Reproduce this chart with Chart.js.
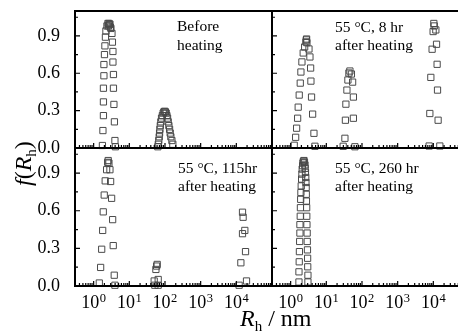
<!DOCTYPE html>
<html>
<head>
<meta charset="utf-8">
<script src="https://cdn.jsdelivr.net/npm/chart.js@4"></script>
<style>
  html, body { margin: 0; padding: 0; background: #fff; }
  #wrap { position: relative; width: 458px; height: 335px; overflow: hidden; }
  #wrap canvas { position: absolute; left: 0; top: 0; }
  .title { position: absolute; font-family: 'Liberation Serif', serif; font-size: 24px; line-height: 24px; white-space: nowrap; color: #000; }
  .title sub { font-size: 15px; vertical-align: -5px; line-height: 0; }
  #ytitle { left: 11px; top: 186px; transform-origin: 0 0; transform: rotate(-90deg); }
  #xtitle { left: 240px; top: 306px; }
</style>
</head>
<body>
<div id="wrap">
  <canvas id="c1" width="480" height="335"></canvas>
  <canvas id="c2" width="480" height="335"></canvas>
  <canvas id="c3" width="480" height="335"></canvas>
  <canvas id="c4" width="480" height="335"></canvas>
  <div class="title" id="ytitle"><i>f</i>(<i>R</i><sub>h</sub>)</div>
  <div class="title" id="xtitle"><i>R</i><sub>h</sub> / nm</div>
</div>
<script>
// axis ticks
const xTickValues = [1, 10, 100, 1000, 10000]
const xTickBase = '10'
const xTickPowers = ['0', '1', '2', '3', '4']
const yTickValues = [0, 0.3, 0.6, 0.9]
const yTickLabels = ['0.0', '0.3', '0.6', '0.9']
const yMinorTicks = [0.15, 0.45, 0.75, 1.05]

// before heating
const beforeRh = [1.76, 1.82, 1.88, 1.88, 1.88, 1.94, 1.94, 2.01, 2.07, 2.14, 2.21, 2.36, 2.52, 2.6, 2.68, 2.77, 2.86, 2.95, 3.05, 3.26, 3.36, 3.47, 3.47, 3.59, 3.59, 3.70, 3.82, 3.95, 4.08,
  63, 65, 67, 69, 70.5, 72, 74, 76.5, 80, 84.5, 89, 93, 98, 102.5, 108, 113, 118, 123, 128.5, 134.5, 140, 146, 156, 166]
const beforeF = [0.02, 0.14, 0.26, 0.37, 0.48, 0.58, 0.67, 0.75, 0.82, 0.89, 0.94, 0.98, 1.0, 0.98, 1.0, 0.99, 0.995, 0.97, 0.96, 0.92, 0.85, 0.775, 0.69, 0.59, 0.48, 0.35, 0.21, 0.06, 0.01,
  0.01, 0.03, 0.06, 0.09, 0.12, 0.15, 0.18, 0.21, 0.24, 0.26, 0.28, 0.29, 0.295, 0.29, 0.28, 0.26, 0.24, 0.21, 0.18, 0.15, 0.12, 0.09, 0.06, 0.03]

// 55 C, 8 hr
const hr8Rh = [1.26, 1.38, 1.47, 1.57, 1.63, 1.74, 1.86, 1.94, 2.07, 2.25, 2.47, 2.68, 2.75, 2.8, 2.86, 3.26, 3.47, 3.63, 3.70, 3.85, 4.13, 4.50, 4.79,
  29.7, 33.2, 34.3, 35.4, 37.8, 40.3, 43.0, 45.8, 50.5, 54.6, 57.4, 57.4, 63.3,
  7630, 7980, 8510, 9250, 9870, 10330, 10600, 11750, 12300, 12770, 13110, 13620, 15200]
const hr8F = [0.022, 0.086, 0.159, 0.239, 0.328, 0.425, 0.521, 0.610, 0.691, 0.763, 0.811, 0.852, 0.868, 0.875, 0.846, 0.795, 0.731, 0.642, 0.537, 0.409, 0.272, 0.118, 0.014,
  0.014, 0.078, 0.223, 0.352, 0.465, 0.546, 0.602, 0.618, 0.594, 0.529, 0.409, 0.239, 0.01,
  0.016, 0.277, 0.567, 0.793, 0.935, 1.0, 0.98, 0.948, 0.833, 0.672, 0.465, 0.223, 0.016]

// 55 C, 115 hr
const hr115Rh = [1.44, 1.57, 1.68, 1.79, 1.86, 1.98, 2.11, 2.31, 2.47, 2.56, 2.68, 2.86, 2.99, 3.19, 3.41, 3.54, 3.78, 3.95,
  49.8, 52, 55.6, 58.2, 60.5, 64.5, 64.5,
  11970, 13400, 14900, 14900, 15500, 17300, 18100, 19300]
const hr115F = [0.024, 0.148, 0.293, 0.443, 0.591, 0.725, 0.838, 0.927, 0.986, 1.0, 0.98, 0.927, 0.833, 0.699, 0.529, 0.322, 0.086, 0.006,
  0.04, 0.006, 0.132, 0.159, 0.172, 0.052, 0.006,
  0.006, 0.185, 0.417, 0.588, 0.548, 0.443, 0.274, 0.040]

// 55 C, 260 hr
const hr260Rh = [1.71, 1.71, 1.74, 1.76, 1.79, 1.82, 1.82, 1.86, 1.88, 1.91, 1.94, 1.98, 2.03, 2.07, 2.11, 2.17, 2.21, 2.28,
  2.36,
  3.05, 3.05, 3.01, 2.99, 2.96, 2.92, 2.90, 2.86, 2.83, 2.81, 2.77, 2.74, 2.72, 2.68, 2.65, 2.60, 2.55, 2.52, 2.44]
const hr260F = [0.032, 0.113, 0.193, 0.274, 0.355, 0.422, 0.489, 0.556, 0.624, 0.691, 0.745, 0.798, 0.852, 0.892, 0.932, 0.959, 0.981, 0.994,
  1.0,
  0.032, 0.086, 0.153, 0.221, 0.288, 0.355, 0.422, 0.489, 0.556, 0.624, 0.677, 0.731, 0.785, 0.825, 0.865, 0.906, 0.938, 0.965, 0.986]

const panelNotes = [
  ['Before', 'heating'],
  ['55 °C, 8 hr', 'after heating'],
  ['55 °C, 115hr', 'after heating'],
  ['55 °C, 260 hr', 'after heating']
]

const W = 480, H = 335
const serif = "'Liberation Serif', 'Times New Roman', serif"

// box, inward ticks, 10^n labels and the panel note
const framePlugin = {
  id: 'frame',
  afterDraw(chart, args, opts) {
    const {ctx, chartArea: a} = chart
    const x = chart.scales.x, y = chart.scales.y
    ctx.save()
    ctx.strokeStyle = '#000'
    ctx.lineWidth = 1.2
    ctx.beginPath()
    for (let d = 0.1; d < 1e5; d *= 10) {
      for (let k = 1; k <= 9; k++) {
        const v = +(k * d).toPrecision(3)
        if (v < 0.3 || v > 1e5) continue
        const px = x.getPixelForValue(v)
        ctx.moveTo(px, a.bottom)
        ctx.lineTo(px, a.bottom - (k === 1 ? 5 : 3))
      }
    }
    yTickValues.forEach(v => {
      const py = y.getPixelForValue(v)
      ctx.moveTo(a.left, py)
      ctx.lineTo(a.left + 5, py)
    })
    yMinorTicks.forEach(v => {
      const py = y.getPixelForValue(v)
      ctx.moveTo(a.left, py)
      ctx.lineTo(a.left + 3, py)
    })
    ctx.stroke()
    ctx.lineWidth = 2
    ctx.strokeRect(a.left, a.top, a.right - a.left, a.bottom - a.top)

    ctx.fillStyle = '#000'
    ctx.textBaseline = 'alphabetic'
    ctx.textAlign = 'left'
    if (opts.xLabels) {
      xTickValues.forEach((v, i) => {
        const px = x.getPixelForValue(v)
        ctx.font = '18px ' + serif
        const wb = ctx.measureText(xTickBase).width
        ctx.font = '12.5px ' + serif
        const we = ctx.measureText(xTickPowers[i]).width
        const x0 = px - (wb + we + 0.5) / 2
        ctx.font = '18px ' + serif
        ctx.fillText(xTickBase, x0, a.bottom + 22)
        ctx.font = '12.5px ' + serif
        ctx.fillText(xTickPowers[i], x0 + wb + 0.5, a.bottom + 15.5)
      })
    }

    ctx.font = '15.5px ' + serif
    opts.lines.forEach((t, i) => ctx.fillText(t, opts.x, opts.y[i]))
    ctx.restore()
  }
}

function makePanel(id, rh, f, note, box) {
  const points = rh.map((v, i) => ({x: v, y: f[i]}))
  return new Chart(document.getElementById(id), {
    type: 'scatter',
    data: {
      datasets: [{
        data: points,
        pointStyle: 'rect',
        pointRadius: 4.4,
        borderWidth: 1,
        borderColor: '#4a4a4a',
        backgroundColor: 'rgba(0,0,0,0)',
        clip: false
      }]
    },
    options: {
      responsive: false,
      animation: false,
      events: [],
      layout: {
        padding: {
          left: box.showY ? 0 : box.left,
          top: box.top,
          right: W - box.right,
          bottom: box.showX ? 0 : H - box.bottom
        }
      },
      scales: {
        x: {
          type: 'logarithmic',
          min: 0.3,
          max: 100000,
          grid: {display: false},
          border: {display: false},
          afterBuildTicks: s => { s.ticks = xTickValues.map(v => ({value: v})) },
          afterFit: s => {
            s.height = box.showX ? H - box.bottom : 0
            s.paddingLeft = 0
            s.paddingRight = 0
          },
          ticks: {display: false}
        },
        y: {
          min: 0,
          max: 1.1,
          grid: {display: false},
          border: {display: false},
          afterBuildTicks: s => { s.ticks = yTickValues.map(v => ({value: v})) },
          afterFit: s => {
            s.width = box.showY ? box.left : 0
            s.paddingTop = 0
            s.paddingBottom = 0
          },
          ticks: {
            display: box.showY,
            padding: 7,
            color: '#000',
            font: {family: serif, size: 18},
            callback: (v, i) => yTickLabels[i]
          }
        }
      },
      plugins: {
        legend: {display: false},
        tooltip: {enabled: false},
        frame: {lines: note, x: box.noteX, y: box.noteY, xLabels: box.showX}
      }
    },
    plugins: [framePlugin]
  })
}

makePanel('c1', beforeRh, beforeF, panelNotes[0],
  {left: 75, top: 11, right: 272, bottom: 148, showY: true, showX: false, noteX: 177, noteY: [31, 49.5]})
makePanel('c2', hr8Rh, hr8F, panelNotes[1],
  {left: 272, top: 11, right: 469, bottom: 148, showY: false, showX: false, noteX: 335, noteY: [31.5, 49.5]})
makePanel('c3', hr115Rh, hr115F, panelNotes[2],
  {left: 75, top: 148, right: 272, bottom: 286, showY: true, showX: true, noteX: 178, noteY: [173, 190.5]})
makePanel('c4', hr260Rh, hr260F, panelNotes[3],
  {left: 272, top: 148, right: 469, bottom: 286, showY: false, showX: true, noteX: 335, noteY: [173, 190.5]})
</script>
</body>
</html>
